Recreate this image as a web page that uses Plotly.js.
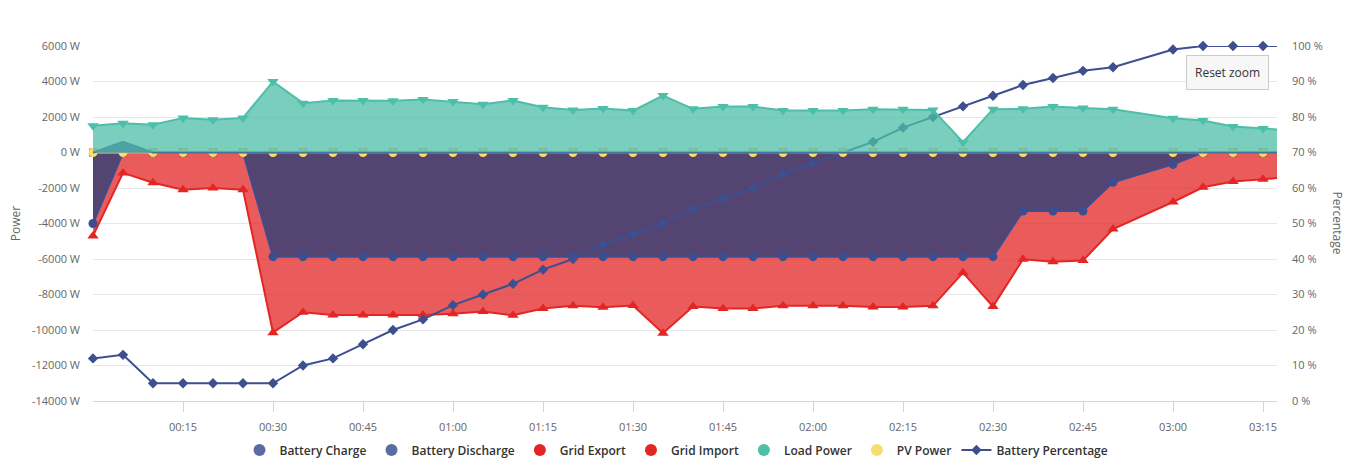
<!DOCTYPE html>
<html>
<head>
<meta charset="utf-8">
<script src="https://cdn.plot.ly/plotly-3.0.1.min.js"></script>
<style>html,body{margin:0;padding:0;background:#fff}#chart{width:1353px;height:461px}</style>
</head>
<body>
<div id="chart"></div>
<script>
// ---- data ----
const times = ['00:00','00:05','00:10','00:15','00:20','00:25','00:30','00:35','00:40','00:45',
  '00:50','00:55','01:00','01:05','01:10','01:15','01:20','01:25','01:30','01:35',
  '01:40','01:45','01:50','01:55','02:00','02:05','02:10','02:15','02:20','02:25',
  '02:30','02:35','02:40','02:45','02:50','03:00','03:05','03:10','03:15','03:17:20'];

const batteryCharge = [0,600,0,0,0,0,0,0,0,0, 0,0,0,0,0,0,0,0,0,0, 0,0,0,0,0,0,0,0,0,0, 0,0,0,0,0,0,0,0,0,0];

const batteryDischarge = [-4000,0,0,0,0,0,-5870,-5870,-5870,-5870,
  -5870,-5870,-5870,-5870,-5870,-5870,-5870,-5870,-5870,-5870,
  -5870,-5870,-5870,-5870,-5870,-5870,-5870,-5870,-5870,-5870,
  -5870,-3300,-3300,-3300,-1680,-670,0,0,0,0];

const gridExport = [0,0,0,0,0,0,0,0,0,0, 0,0,0,0,0,0,0,0,0,0, 0,0,0,0,0,0,0,0,0,0, 0,0,0,0,0,0,0,0,0,0];

const gridImport = [-4700,-1150,-1700,-2100,-2000,-2100,-10150,-9000,-9150,-9150,
  -9150,-9150,-9090,-8960,-9170,-8790,-8640,-8720,-8620,-10180,
  -8680,-8790,-8790,-8640,-8640,-8640,-8700,-8700,-8640,-6770,
  -8680,-6010,-6160,-6090,-4310,-2790,-1960,-1640,-1510,-1440];

const loadPower = [1500,1650,1560,1950,1840,1950,4000,2780,2930,2930,
  2910,2980,2870,2720,2930,2550,2400,2480,2360,3210,
  2460,2590,2590,2360,2360,2360,2440,2440,2400,580,
  2440,2460,2590,2510,2440,1930,1800,1460,1350,1300];

const pvPower = [0,0,0,0,0,0,0,0,0,0, 0,0,0,0,0,0,0,0,0,0, 0,0,0,0,0,0,0,0,0,0, 0,0,0,0,0,0,0,0,0,0];

const batteryPercentage = [12,13,5,5,5,5,5,10,12,16,
  20,23,27,30,33,37,40,44,47,50,
  54,57,60,64,67,70,73,77,80,83,
  86,89,91,93,94,99,100,100,100,100];

const tickLabels = ['00:15','00:30','00:45','01:00','01:15','01:30','01:45','02:00','02:15','02:30','02:45','03:00','03:15'];
const powerTicks = [6000,4000,2000,0,-2000,-4000,-6000,-8000,-10000,-12000,-14000];
const legendNames = ['Battery Charge','Battery Discharge','Grid Export','Grid Import','Load Power','PV Power','Battery Percentage'];

// ---- build ----
const day = '2024-01-01 ';
const x = times.map(t => day + (t.length === 5 ? t + ':00' : t));
const n = x.length;
const msize = s => x.map((_, i) => i === n - 1 ? 0 : s);
const mk = (symbol, s, color) => ({symbol, size: msize(s), color, opacity: 1, line: {width: 0}, sizemode: 'diameter'});

const BLUE = '#3c4e90', RED = '#e32624', TEAL = '#4dbea8', YEL = '#f8dc6f', PCT = '#3d4f8f';

const traces = [
  {x, y: gridExport, name: 'Grid Export', type: 'scatter', mode: 'lines+markers', yaxis: 'y',
   line: {color: RED, width: 2}, marker: mk('square', 8, RED),
   cliponaxis: false, showlegend: false, hoverinfo: 'skip'},
  {x, y: gridImport, name: 'Grid Import', type: 'scatter', mode: 'lines+markers', yaxis: 'y',
   fill: 'tozeroy', fillcolor: 'rgba(227,38,36,0.75)',
   line: {color: RED, width: 2}, marker: mk('triangle-up', 10, RED),
   cliponaxis: false, showlegend: false, hoverinfo: 'skip'},
  {x, y: batteryDischarge, name: 'Battery Discharge', type: 'scatter', mode: 'lines+markers', yaxis: 'y',
   fill: 'tozeroy', fillcolor: 'rgba(45,62,120,0.8)',
   line: {color: BLUE, width: 2}, marker: mk('circle', 9, BLUE),
   cliponaxis: false, showlegend: false, hoverinfo: 'skip'},
  {x, y: batteryPercentage, name: 'Battery Percentage', type: 'scatter', mode: 'lines+markers', yaxis: 'y2',
   line: {color: PCT, width: 2}, marker: mk('diamond', 8, PCT),
   cliponaxis: false, showlegend: false, hoverinfo: 'skip'},
  {x, y: pvPower, name: 'PV Power', type: 'scatter', mode: 'lines+markers', yaxis: 'y3',
   line: {color: YEL, width: 2}, marker: mk('circle', 9, YEL),
   cliponaxis: false, showlegend: false, hoverinfo: 'skip'},
  {x, y: batteryCharge, name: 'Battery Charge', type: 'scatter', mode: 'lines', yaxis: 'y3',
   fill: 'tozeroy', fillcolor: 'rgba(57,70,148,0.92)',
   line: {color: BLUE, width: 2}, showlegend: false, hoverinfo: 'skip'},
  {x, y: loadPower, name: 'Load Power', type: 'scatter', mode: 'lines+markers', yaxis: 'y3',
   fill: 'tozeroy', fillcolor: 'rgba(77,190,168,0.75)',
   line: {color: TEAL, width: 2}, marker: mk('triangle-down', 10, TEAL),
   cliponaxis: false, showlegend: false, hoverinfo: 'skip'}
];

// legend-only entries (circle symbols as in the reference)
const legendColors = ['#5a6ca3','#5a6ca3',RED,RED,TEAL,YEL];
legendNames.slice(0, 6).forEach((nm, i) => {
  traces.push({x: [null], y: [null], name: nm, type: 'scatter', mode: 'markers', yaxis: 'y',
    marker: {symbol: 'circle', size: 12, color: legendColors[i], line: {width: 0}}, showlegend: true});
});
traces.push({x: [null], y: [null], name: legendNames[6], type: 'scatter', mode: 'lines+markers', yaxis: 'y',
  line: {color: PCT, width: 2}, marker: {symbol: 'diamond', size: 8, color: PCT, line: {width: 0}}, showlegend: true});

const pRange = [powerTicks[powerTicks.length - 1], powerTicks[0]];
const FONT = 'Open Sans, sans-serif';

const layout = {
  width: 1353, height: 461,
  margin: {l: 93, r: 76, t: 46, b: 60, autoexpand: false},
  paper_bgcolor: '#fff', plot_bgcolor: '#fff',
  font: {family: FONT, color: '#666', size: 11},
  showlegend: true,
  legend: {orientation: 'h', xref: 'container', yref: 'container', x: 0.5, xanchor: 'center',
    y: 0.024, yanchor: 'middle',
    font: {family: FONT, size: 12, color: '#333', weight: 600}, itemwidth: 30, traceorder: 'normal'},
  xaxis: {type: 'date', range: [x[0], x[n - 1]],
    tickvals: tickLabels.map(t => day + t + ':00'), ticktext: tickLabels,
    showgrid: false, zeroline: false, showline: true, linecolor: '#ccd6eb', linewidth: 1,
    ticks: 'outside', ticklen: 10, tickcolor: '#ccd6eb', ticklabelstandoff: 6,
    tickfont: {size: 11, color: '#666'}, fixedrange: true, automargin: false},
  yaxis: {range: pRange, tickvals: powerTicks, ticktext: powerTicks.map(v => v + ' W'),
    showgrid: true, gridcolor: '#e6e6e6', zeroline: false, showline: false,
    ticks: '', ticklabelstandoff: 12, tickfont: {size: 11, color: '#666'},
    title: {text: 'Power', font: {size: 12, color: '#666'}, standoff: 8}, automargin: false, fixedrange: true},
  yaxis2: {range: [0, 100], dtick: 10, tick0: 0, ticksuffix: ' %', overlaying: 'y', side: 'right',
    showgrid: false, zeroline: false, showline: false, ticks: '', ticklabelstandoff: 14,
    tickfont: {size: 11, color: '#666'}, automargin: false, fixedrange: true},
  yaxis3: {range: pRange, overlaying: 'y', visible: false, showgrid: false, zeroline: false, fixedrange: true},
  annotations: [
    {text: 'Percentage', xref: 'paper', yref: 'paper', x: 1.0515, y: 0.5, textangle: 90,
     showarrow: false, font: {size: 12, color: '#666', family: FONT}, xanchor: 'center', yanchor: 'middle'},
    {text: 'Reset zoom', xref: 'paper', yref: 'paper', x: 0.9578, y: 0.924, showarrow: false,
     font: {size: 12, color: '#333', family: FONT}, bgcolor: '#f7f7f7', bordercolor: '#cccccc',
     borderwidth: 1, borderpad: 8, xanchor: 'center', yanchor: 'middle'}
  ]
};

Plotly.newPlot('chart', traces, layout, {displayModeBar: false, staticPlot: true});
</script>
</body>
</html>
